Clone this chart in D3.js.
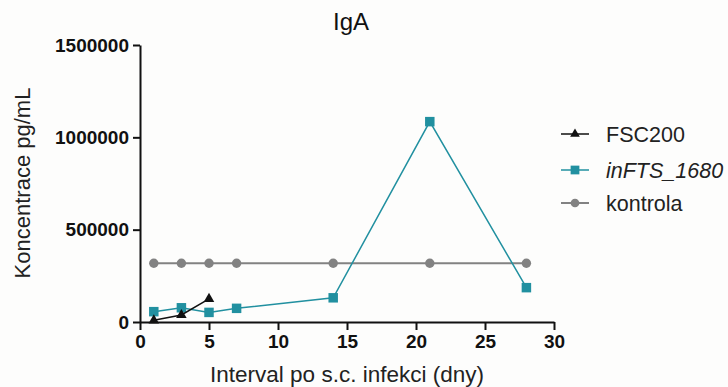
<!DOCTYPE html>
<html>
<head>
<meta charset="utf-8">
<script src="https://cdn.jsdelivr.net/npm/d3@7"></script>
<style>
  body { margin: 0; background: #fdfdfc; }
  svg { display: block; font-family: "Liberation Sans", Arial, sans-serif; }
</style>
</head>
<body>
<div id="chart"></div>
<script>
const days = [1, 3, 5, 7, 14, 21, 28];
const fscDays = [1, 3, 5];
const fscValues = [9000, 38000, 125000];
const infValues = [56000, 77000, 52000, 74000, 131000, 1085000, 186000];
const kontrolaValues = [318000, 318000, 318000, 318000, 318000, 318000, 318000];
const xTicks = [0, 5, 10, 15, 20, 25, 30];
const yTicks = [0, 500000, 1000000, 1500000];

const series = [
  {name: "FSC200", italic: false, color: "#111", shape: d3.symbolTriangle, size: 48, width: 1.5,
   points: fscDays.map((d, i) => ({x: d, y: fscValues[i]}))},
  {name: "inFTS_1680", italic: true, color: "#2190a0", shape: d3.symbolSquare, size: 90, width: 1.5,
   points: days.map((d, i) => ({x: d, y: infValues[i]}))},
  {name: "kontrola", italic: false, color: "#828282", shape: d3.symbolCircle, size: 70, width: 2,
   points: days.map((d, i) => ({x: d, y: kontrolaValues[i]}))}
];

const width = 728, height = 387;
const margin = {top: 45, right: 174, bottom: 65, left: 140};

const svg = d3.select("#chart").append("svg")
  .attr("width", width)
  .attr("height", height)
  .attr("viewBox", [0, 0, width, height]);

const x = d3.scaleLinear().domain([0, 30]).range([margin.left, width - margin.right]);
const y = d3.scaleLinear().domain([0, 1500000]).range([height - margin.bottom, margin.top]);

// x axis
svg.append("g")
  .attr("transform", `translate(0,${y(0)})`)
  .call(d3.axisBottom(x).tickValues(xTicks).tickSize(8).tickPadding(5).tickSizeOuter(0))
  .call(g => g.select(".domain").attr("stroke", "#111").attr("stroke-width", 2))
  .call(g => g.selectAll(".tick line").attr("stroke", "#111").attr("stroke-width", 2))
  .call(g => g.selectAll(".tick text")
    .attr("fill", "#111").attr("font-size", 19).attr("font-weight", "bold")
    .attr("font-family", "Liberation Sans, Arial, sans-serif"));

// y axis
svg.append("g")
  .attr("transform", `translate(${x(0)},0)`)
  .call(d3.axisLeft(y).tickValues(yTicks).tickFormat(d3.format("d")).tickSize(7).tickPadding(4).tickSizeOuter(0))
  .call(g => g.select(".domain").attr("stroke", "#111").attr("stroke-width", 2))
  .call(g => g.selectAll(".tick line").attr("stroke", "#111").attr("stroke-width", 2))
  .call(g => g.selectAll(".tick text")
    .attr("fill", "#111").attr("font-size", 19).attr("font-weight", "bold")
    .attr("font-family", "Liberation Sans, Arial, sans-serif"));

// lines and markers
const line = d3.line().x(d => x(d.x)).y(d => y(d.y));

series.slice().reverse().forEach(s => {
  svg.append("path")
    .datum(s.points)
    .attr("fill", "none")
    .attr("stroke", s.color)
    .attr("stroke-width", s.width)
    .attr("d", line);
  svg.append("g")
    .selectAll("path")
    .data(s.points)
    .join("path")
    .attr("transform", d => `translate(${x(d.x)},${y(d.y)})`)
    .attr("fill", s.color)
    .attr("d", d3.symbol().type(s.shape).size(s.size)());
});

// title
svg.append("text")
  .attr("x", 351)
  .attr("y", 30)
  .attr("text-anchor", "middle")
  .attr("font-size", 24)
  .attr("fill", "#111")
  .text("IgA");

// axis titles
svg.append("text")
  .attr("x", 347)
  .attr("y", 382)
  .attr("text-anchor", "middle")
  .attr("font-size", 22.5)
  .attr("fill", "#222")
  .text("Interval po s.c. infekci (dny)");

svg.append("text")
  .attr("transform", "translate(30,183) rotate(-90)")
  .attr("text-anchor", "middle")
  .attr("font-size", 22)
  .attr("fill", "#222")
  .text("Koncentrace pg/mL");

// legend
const legendY = [134, 170, 203];
const legend = svg.append("g")
  .selectAll("g")
  .data(series)
  .join("g")
  .attr("transform", (d, i) => `translate(561,${legendY[i]})`);

legend.append("line")
  .attr("x1", 0).attr("x2", 28)
  .attr("stroke", d => d.color)
  .attr("stroke-width", d => d.width);

legend.append("path")
  .attr("transform", "translate(14,0)")
  .attr("fill", d => d.color)
  .attr("d", d => d3.symbol().type(d.shape).size(d.size * 0.85)());

legend.append("text")
  .attr("x", 45)
  .attr("y", 7.5)
  .attr("font-size", 21.5)
  .attr("font-style", d => d.italic ? "italic" : "normal")
  .attr("fill", "#222")
  .text(d => d.name);
</script>
</body>
</html>
